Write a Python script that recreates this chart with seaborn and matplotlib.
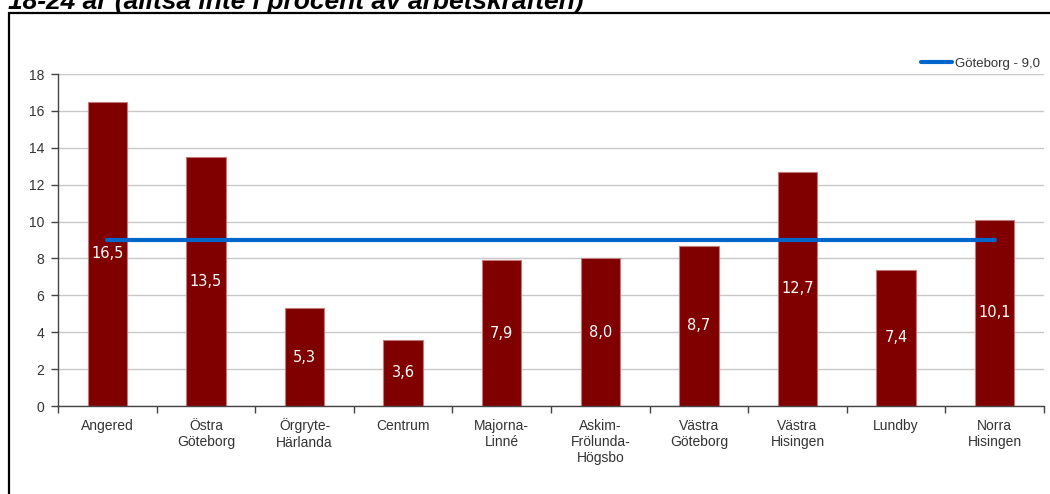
import matplotlib
matplotlib.use("Agg")
import matplotlib.pyplot as plt
import seaborn as sns
import pandas as pd
from matplotlib.patches import Rectangle
from matplotlib.ticker import FixedLocator

# data
districts = ["Angered", "Östra\nGöteborg", "Örgryte-\nHärlanda", "Centrum",
             "Majorna-\nLinné", "Askim-\nFrölunda-\nHögsbo", "Västra\nGöteborg",
             "Västra\nHisingen", "Lundby", "Norra\nHisingen"]
values = [16.5, 13.5, 5.3, 3.6, 7.9, 8.0, 8.7, 12.7, 7.4, 10.1]
goteborg_avg = 9.0
legend_label = "Göteborg - 9,0"
title_text = "18-24 år (alltså inte i procent av arbetskraften)"
yticks = [0, 2, 4, 6, 8, 10, 12, 14, 16, 18]

sns.set_style("white")
plt.rcParams['font.family'] = ['Liberation Sans', 'DejaVu Sans']

df = pd.DataFrame({"district": districts, "value": values})

fig = plt.figure(figsize=(10.5, 4.94), dpi=100)
ax = fig.add_axes([58 / 1050, 88 / 494, (1044 - 58) / 1050, 332 / 494])

# bars
sns.barplot(data=df, x="district", y="value", color="#800000", width=0.4,
            edgecolor="#c47a7a", linewidth=0.8, saturation=1, ax=ax, zorder=2)

# value labels in the middle of each bar
for i, v in enumerate(values):
    ax.text(i, v / 2, f"{v:.1f}".replace(".", ","), color="white",
            ha="center", va="center", fontsize=10.5, family="DejaVu Sans", zorder=5)

# Göteborg average line
sns.lineplot(x=districts, y=[goteborg_avg] * len(districts), color="#0066cc",
             linewidth=3, ax=ax, zorder=4, label=legend_label, sort=False)

ax.set_xlim(-0.5, len(districts) - 0.5)
ax.set_ylim(0, 18)
ax.set_yticks(yticks)
ax.set_xlabel("")
ax.set_ylabel("")

ax.yaxis.grid(True, color="#c8c8c8", linewidth=1)
ax.set_axisbelow(True)

for s in ["top", "right"]:
    ax.spines[s].set_visible(False)
for s in ["left", "bottom"]:
    ax.spines[s].set_color("#444444")
    ax.spines[s].set_linewidth(1)

ax.tick_params(axis="y", length=5, width=1, color="#444444", labelsize=10,
               labelcolor="#333333", pad=5, left=True, direction="out")
ax.tick_params(axis="x", which="major", length=0, labelsize=10,
               labelcolor="#333333", pad=9)
ax.xaxis.set_minor_locator(FixedLocator([i + 0.5 for i in range(-1, len(districts))]))
ax.tick_params(axis="x", which="minor", length=5, width=1, color="#444444",
               bottom=True, direction="out")

leg = ax.legend(loc="lower right", bbox_to_anchor=(1.0, 1.0), frameon=False,
                fontsize=9.5, handlelength=2.4, handletextpad=0.2,
                borderaxespad=0.1, borderpad=0.2)
for t in leg.get_texts():
    t.set_color("#333333")

# outer frame of the chart area, running off the right and bottom edges
frame = Rectangle((9 / 1050, -0.1), 1.2, 1 - 13 / 494 + 0.1, transform=fig.transFigure,
                  fill=False, edgecolor="black", linewidth=1.6)
fig.patches.append(frame)

# title, cut off at the top edge as in the source
fig.text(8 / 1050, 1 - 9 / 494, title_text, ha="left", va="baseline",
         fontsize=19, fontweight="bold", fontstyle="italic", color="black")

fig.savefig("out.png", dpi=100)
